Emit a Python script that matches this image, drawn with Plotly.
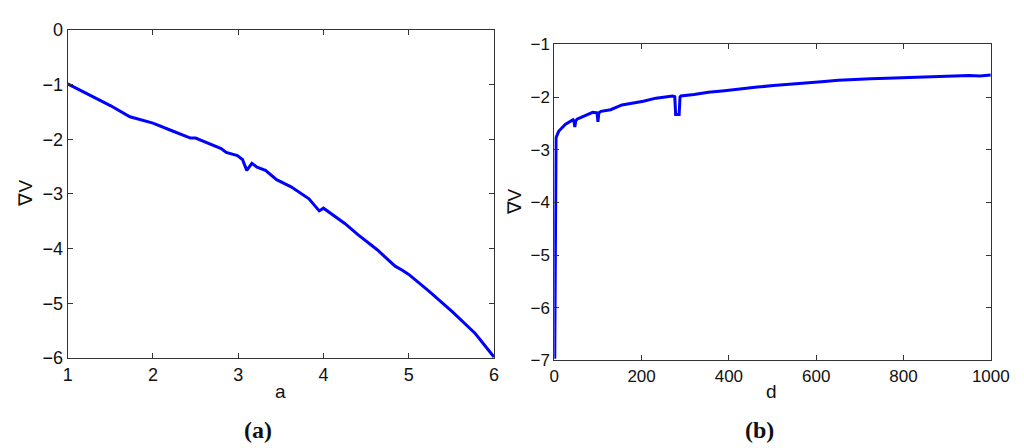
import plotly.graph_objects as go
from plotly.subplots import make_subplots

# panel (a): gradient vs a
a_vals = [1.0, 1.27, 1.5, 1.73, 2.0, 2.23, 2.44, 2.5, 2.65, 2.8, 2.86, 2.99, 3.05,
          3.1, 3.16, 3.22, 3.32, 3.45, 3.62, 3.76, 3.83, 3.95, 4.0, 4.25, 4.4,
          4.63, 4.84, 4.92, 5.0, 5.24, 5.51, 5.78, 6.0]
grad_a = [-0.99, -1.21, -1.385, -1.59, -1.705, -1.85, -1.98, -1.98, -2.07, -2.17,
          -2.24, -2.3, -2.37, -2.57, -2.44, -2.51, -2.57, -2.74, -2.87, -3.02,
          -3.09, -3.31, -3.26, -3.54, -3.74, -4.02, -4.32, -4.39, -4.47, -4.78,
          -5.15, -5.55, -5.98]

# panel (b): gradient vs d
d_vals = [1, 3, 4, 10, 25, 43, 45, 47, 49, 52, 77, 88, 98, 100, 102, 107, 129,
          155, 204, 233, 271, 276, 278, 286, 288, 290, 320, 353, 390, 427, 465,
          502, 540, 576, 612, 651, 690, 725, 762, 800, 838, 875, 912, 950, 975,
          1000]
grad_b = [-6.97, -4.5, -2.77, -2.65, -2.52, -2.43, -2.45, -2.57, -2.46, -2.42,
          -2.34, -2.29, -2.3, -2.47, -2.3, -2.27, -2.24, -2.15, -2.08, -2.02,
          -1.98, -1.99, -2.33, -2.33, -2.0, -1.98, -1.95, -1.91, -1.88, -1.84,
          -1.81, -1.78, -1.76, -1.73, -1.71, -1.68, -1.66, -1.65, -1.64, -1.63,
          -1.625, -1.62, -1.6, -1.59, -1.6, -1.58]

fig = make_subplots(rows=1, cols=2)

fig.add_trace(go.Scatter(x=a_vals, y=grad_a, mode='lines',
                         line=dict(color='#0000ff', width=3)), row=1, col=1)
fig.add_trace(go.Scatter(x=d_vals, y=grad_b, mode='lines',
                         line=dict(color='#0000ff', width=3)), row=1, col=2)

ax_style = dict(showline=True, linecolor='#333333', linewidth=1, mirror='ticks',
                ticks='inside', ticklen=5, tickcolor='#333333', showgrid=False,
                zeroline=False, tickfont=dict(family='Liberation Sans, Arial', size=18, color='#111111'))

fig.update_xaxes(ax_style)
fig.update_yaxes(ax_style)

fig.update_xaxes(domain=[0.0547, 0.481], range=[1, 6], dtick=1, row=1, col=1)
fig.update_yaxes(domain=[0.2054, 0.9725], range=[-6, 0], dtick=1, row=1, col=1)
fig.update_xaxes(domain=[0.5413, 0.9778], range=[0, 1000], dtick=200, row=1, col=2,
                 tickfont=dict(size=17))
fig.update_yaxes(domain=[0.2002, 0.9382], range=[-7, -1], dtick=1, row=1, col=2,
                 tickfont=dict(size=17))

txt = dict(family='Liberation Sans, Arial', size=19, color='#111111')
serif = dict(family='Liberation Serif, Times New Roman', size=24, color='#111111')
notes = [
    dict(x=274, y=391, text='a', textangle=0, font=txt),
    dict(x=777, y=391, text='d', textangle=0, font=txt),
    dict(x=13, y=183, text='∇V', textangle=-90, font=txt),
    dict(x=513, y=192, text='∇V', textangle=-90, font=txt),
    dict(x=251, y=431, text='<b>(a)</b>', textangle=0, font=serif),
    dict(x=764, y=431, text='<b>(b)</b>', textangle=0, font=serif),
]
for n in notes:
    fig.add_annotation(x=n['x'] / 1024, y=1 - n['y'] / 448, xref='paper', yref='paper',
                       text=n['text'], textangle=n['textangle'], font=n['font'],
                       showarrow=False, xanchor='center', yanchor='middle')

fig.update_layout(width=1024, height=448, margin=dict(l=0, r=0, t=0, b=0),
                  showlegend=False, plot_bgcolor='white', paper_bgcolor='white')

fig.write_html("out.html")
